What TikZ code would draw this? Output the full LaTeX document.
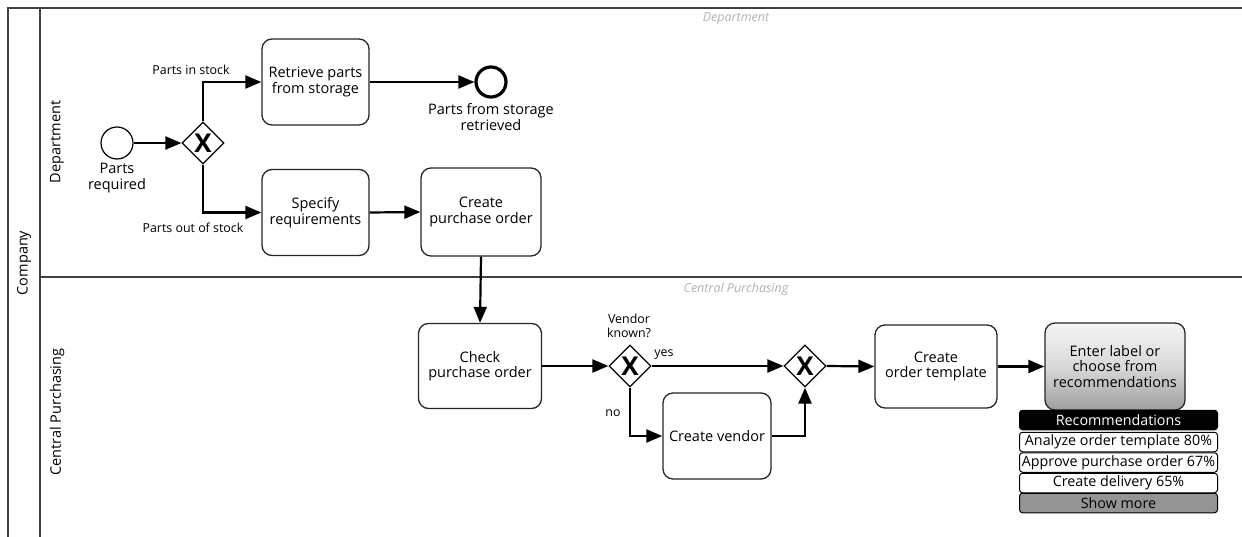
\documentclass[tikz,border=0pt]{standalone}
\usepackage{fontspec}
\setmainfont{Open Sans}
\usetikzlibrary{arrows.meta,shapes.geometric}
\begin{document}
\begin{tikzpicture}[x=1pt,y=-1pt,
  pool/.style={draw=black!75, line width=1.5pt},
  task/.style={draw=black!85, line width=1.3pt, rounded corners=10pt, fill=white, align=center, font=\fontsize{14.5}{15.5}\selectfont, inner sep=0pt},
  gw/.style={draw=black, line width=1.2pt, diamond, minimum width=42pt, minimum height=42pt, inner sep=0pt, fill=white, font=\fontsize{26}{26}\selectfont\bfseries},
  ev/.style={circle, draw=black, minimum size=32pt, inner sep=0pt, fill=white},
  flow/.style={line width=2.2pt, -{Triangle[length=16pt,width=13pt]}},
  lbl/.style={font=\fontsize{12.4}{13.5}\selectfont, align=center, inner sep=0pt},
  evlbl/.style={font=\fontsize{14.5}{15.5}\selectfont, align=center, inner sep=0pt},
  lanetitle/.style={font=\fontsize{12.5}{13}\selectfont\itshape, text=black!30, inner sep=0pt},
  lanename/.style={font=\fontsize{14.5}{15}\selectfont, rotate=90, inner sep=0pt},
  rec/.style={draw=black, line width=1pt, rounded corners=3pt, minimum width=198pt, minimum height=19.5pt, inner sep=0pt, font=\fontsize{14.3}{14.5}\selectfont}
]
\useasboundingbox (0,0) rectangle (1242,537);
% pool and lanes
\draw[pool] (1242,8) -- (8,8) -- (8,537);
\draw[pool] (40,8) -- (40,537);
\draw[pool] (40,277) -- (1242,277);
\node[lanename] (company) at (24,263) {Company};
\node[lanename] (deplane) at (57,142) {Department};
\node[lanename] (cplane) at (57,412) {Central Purchasing};
\node[lanetitle] (deptitle) at (736,19) {Department};
\node[lanetitle] (cptitle) at (736,289) {Central Purchasing};

% Department lane
\node[ev, line width=1.2pt] (start) at (117,143) {};
\node[evlbl] (startlbl) at (117,178) {Parts\\required};
\node[gw] (g1) at (203,143) {X};
\node[task, minimum width=107pt, minimum height=86pt] (retrieve) at (315.5,82) {Retrieve parts\\from storage};
\node[task, minimum width=107pt, minimum height=86pt] (specify) at (315.5,212.5) {Specify\\requirements};
\node[ev, line width=3.2pt, minimum size=30pt] (end) at (491,82) {};
\node[evlbl] (endlbl) at (491,117) {Parts from storage\\retrieved};
\node[task, minimum width=120pt, minimum height=88pt] (create) at (481,212) {Create\\purchase order};
\node[lbl] (instock) at (191,70) {Parts in stock};
\node[lbl] (outstock) at (193,228) {Parts out of stock};

\draw[flow] (start.east) -- (g1.west);
\draw[flow] (g1.north) |- (retrieve.west);
\draw[flow] (g1.south) |- (specify.west);
\draw[flow] (retrieve.east) -- (end.west);
\draw[flow] (specify.east) -- (create.west);

% Central purchasing lane
\node[task, minimum width=123pt, minimum height=85pt] (check) at (480,366) {Check\\purchase order};
\node[gw] (g2) at (630,366) {X};
\node[lbl] (vk) at (629,326) {Vendor\\known?};
\node[lbl] (yes) at (664,355) {yes};
\node[lbl] (no) at (613,413) {no};
\node[task, minimum width=108pt, minimum height=86pt] (vendor) at (717,436) {Create vendor};
\node[gw] (g3) at (805,366) {X};
\node[task, minimum width=122pt, minimum height=83pt] (template) at (936,366.5) {Create\\order template};
\node[task, minimum width=140pt, minimum height=87pt, top color=black!4, bottom color=black!38, middle color=black!15] (enter) at (1115,366.5) {Enter label or\\choose from\\recommendations};

\draw[flow] (create.south) -- (check.north);
\draw[flow] (check.east) -- (g2.west);
\draw[flow] (g2.east) -- (g3.west);
\draw[flow] (g2.south) |- (vendor.west);
\draw[flow] (vendor.east) -| (g3.south);
\draw[flow] (g3.east) -- (template.west);
\draw[flow] (template.east) -- (enter.west);

% recommendations panel
\node[rec, fill=black, text=white] (rechead) at (1118.5,420) {Recommendations};
\node[rec, fill=white] (rec1) at (1118.5,442) {Analyze order template 80\%};
\node[rec, fill=white] (rec2) at (1118.5,462.5) {Approve purchase order 67\%};
\node[rec, fill=white] (rec3) at (1118.5,483) {Create delivery 65\%};
\node[rec, fill=black!42] (recmore) at (1118.5,503) {Show more};
\end{tikzpicture}
\end{document}
